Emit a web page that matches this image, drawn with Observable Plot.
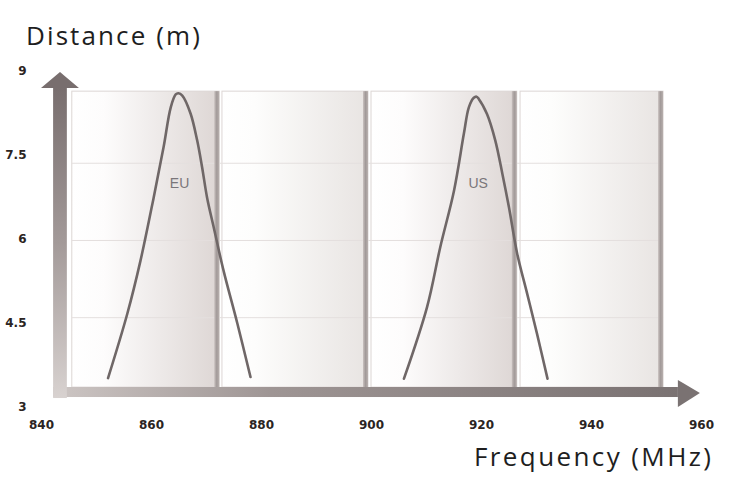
<!DOCTYPE html>
<html>
<head>
<meta charset="utf-8">
<script src="https://cdn.jsdelivr.net/npm/d3@7"></script>
<script src="https://cdn.jsdelivr.net/npm/@observablehq/plot@0.6"></script>
<style>
  html, body { margin: 0; padding: 0; background: #fff; }
  #chart { width: 750px; height: 486px; }
</style>
</head>
<body>
<div id="chart"></div>
<script>
// ---- data ----
const xTicks = [840, 860, 880, 900, 920, 940, 960];
const yTicks = [3, 4.5, 6, 7.5, 9];

const euFreq = [852.1, 855.6, 858.0, 860.4, 862.2, 863.5, 864.4, 864.9, 865.6, 867.1, 868.3, 869.2, 870.1, 871.3, 873.1, 875.6, 878.0];
const euDist = [3.52, 4.67, 5.62, 6.75, 7.65, 8.36, 8.59, 8.61, 8.57, 8.25, 7.77, 7.29, 6.75, 6.22, 5.44, 4.50, 3.54];

const usFreq = [905.9, 910.1, 912.5, 915.0, 916.8, 917.7, 918.6, 919.1, 919.5, 921.0, 922.5, 923.8, 925.0, 926.5, 928.3, 930.1, 932.0];
const usDist = [3.51, 4.79, 5.86, 6.87, 7.89, 8.36, 8.53, 8.55, 8.51, 8.24, 7.77, 7.17, 6.57, 5.74, 5.03, 4.31, 3.51];

const bandNames = ["EU", "US"];
const bandLabelFreq = [865.1, 919.4];
const bandLabelDist = [7.0, 7.0];

// background panels (frequency extents) and their distance extent
const panelStart = [845.6, 872.9, 900.0, 927.1];
const panelEnd   = [872.4, 899.45, 926.5, 953.1];
const panelShade = ["url(#gpDark)", "url(#gpLight)", "url(#gpDark)", "url(#gpLight)"];
const panelTop = 8.64, panelBottom = 3.35;
const gridDist = [7.36, 5.98, 4.60];

// ---- build tables ----
const eu = euFreq.map((f, i) => ({f, d: euDist[i]}));
const us = usFreq.map((f, i) => ({f, d: usDist[i]}));
const bands = bandNames.map((n, i) => ({n, f: bandLabelFreq[i], d: bandLabelDist[i]}));
const panels = panelStart.map((s, i) => ({s, e: panelEnd[i], fill: panelShade[i]}));

// arrow axes geometry (in data units)
const vShaft = [{x1: 842.2, x2: 844.7, y1: 3.155, y2: 8.696}];
const hShaft = [{x1: 842.2, x2: 955.8, y1: 3.173, y2: 3.352}];
const vHead = [{x: 840.0, y2: 8.696}, {x: 843.45, y2: 8.982}, {x: 846.9, y2: 8.696}];
const hHead = [{y: 2.995, x2: 955.8}, {y: 3.245, x2: 959.8}, {y: 3.477, x2: 955.8}];

const curveColor = "#6f6767";

const svg = Plot.plot({
  width: 750,
  height: 486,
  marginLeft: 41,
  marginRight: 49,
  marginTop: 71,
  marginBottom: 79.3,
  style: {
    background: "#fff",
    color: "#2b2422",
    fontFamily: "DejaVu Sans",
    fontSize: "12px",
    fontWeight: "bold"
  },
  x: {domain: [840, 960], ticks: xTicks, tickSize: 0, tickPadding: 13, label: null, tickFormat: d => String(d)},
  y: {domain: [3, 9], ticks: yTicks, tickSize: 0, tickPadding: 15, label: null, tickFormat: d => String(d)},
  marks: [
    // panels
    Plot.rect(panels, {x1: "s", x2: "e", y1: panelBottom, y2: panelTop, fill: "fill", stroke: "#dcd6d4", strokeWidth: 1}),
    Plot.ruleY(gridDist, {x1: panelStart[0], x2: panelEnd[3], stroke: "#e4dfde", strokeWidth: 1}),
    Plot.rect(panels, {x1: d => d.e - 0.9, x2: "e", y1: panelBottom, y2: panelTop, fill: "url(#gShadow)"}),
    // arrow axes
    Plot.rect(hShaft, {x1: "x1", x2: "x2", y1: "y1", y2: "y2", fill: "url(#gH)"}),
    Plot.rect(vShaft, {x1: "x1", x2: "x2", y1: "y1", y2: "y2", fill: "url(#gV)"}),
    Plot.areaY(vHead, {x: "x", y1: vHead[0].y2, y2: "y2", fill: "#786e6e", curve: "linear"}),
    Plot.areaX(hHead, {y: "y", x1: hHead[0].x2, x2: "x2", fill: "#7a7272", curve: "linear"}),
    // curves
    Plot.line(eu, {x: "f", y: "d", stroke: curveColor, strokeWidth: 2.6, curve: "catmull-rom"}),
    Plot.line(us, {x: "f", y: "d", stroke: curveColor, strokeWidth: 2.6, curve: "catmull-rom"}),
    Plot.text(bands, {x: "f", y: "d", text: "n", fill: "#7a767a", fontFamily: "Liberation Sans", fontSize: 14, fontWeight: "normal"})
  ]
});

const root = d3.select(svg);
const defs = root.insert("defs", ":first-child");
function hGrad(id, stops) {
  const g = defs.append("linearGradient").attr("id", id).attr("x1", "0").attr("x2", "1").attr("y1", "0").attr("y2", "0");
  stops.forEach(([o, c]) => g.append("stop").attr("offset", o).attr("stop-color", c));
}
function vGrad(id, stops) {
  const g = defs.append("linearGradient").attr("id", id).attr("x1", "0").attr("x2", "0").attr("y1", "0").attr("y2", "1");
  stops.forEach(([o, c]) => g.append("stop").attr("offset", o).attr("stop-color", c));
}
hGrad("gpDark", [["0", "#ffffff"], ["0.22", "#fdfcfc"], ["1", "#ddd6d4"]]);
hGrad("gpLight", [["0", "#ffffff"], ["0.22", "#fdfdfc"], ["1", "#e8e4e2"]]);
hGrad("gShadow", [["0", "#c8c0be"], ["0.5", "#a29a99"], ["1", "#b8b0ae"]]);
hGrad("gH", [["0", "#cdc6c4"], ["0.35", "#9e9594"], ["1", "#7a7272"]]);
vGrad("gV", [["0", "#786e6e"], ["0.5", "#a39a99"], ["1", "#d8d2d0"]]);

root.append("text").attr("x", 26).attr("y", 45).attr("text-anchor", "start")
  .attr("font-family", "Open Sans").attr("font-size", 26).attr("font-weight", 400)
  .attr("letter-spacing", 2.1).attr("fill", "#1e1e1e").text("Distance (m)");
root.append("text").attr("x", 474).attr("y", 466).attr("text-anchor", "start")
  .attr("font-family", "Open Sans").attr("font-size", 26).attr("font-weight", 400)
  .attr("letter-spacing", 2.4).attr("fill", "#1e1e1e").text("Frequency (MHz)");

document.getElementById("chart").appendChild(svg);
</script>
</body>
</html>
